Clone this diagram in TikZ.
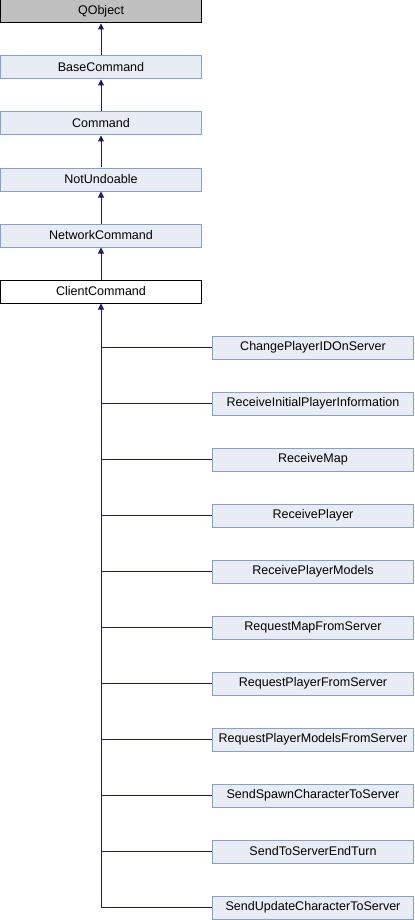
\documentclass[tikz,border=0pt]{standalone}
\usepackage{fontspec}
\setmainfont{Liberation Sans}
\usetikzlibrary{arrows.meta}
\definecolor{boxfill}{HTML}{E8ECF5}
\definecolor{boxedge}{HTML}{84A0CE}
\definecolor{grayfill}{HTML}{BFBFBF}
\definecolor{edgecol}{HTML}{191970}
\begin{document}
\begin{tikzpicture}[x=0.75pt,y=-0.75pt,
  cls/.style={draw=boxedge,fill=boxfill,line width=0.75pt,minimum width=150.75pt,minimum height=17.25pt,inner sep=0pt,font=\fontsize{9.4}{10}\selectfont},
  extcls/.style={cls,draw=black,fill=grayfill},
  curcls/.style={cls,draw=black,fill=white},
  edge/.style={draw=edgecol,line width=0.75pt},
  inh/.style={edge,-{Triangle[length=4.5pt,width=4.5pt]}}]
\useasboundingbox (0,0) rectangle (414,920);
\node[extcls] (qobject) at (101,11.5) {QObject};
\node[cls] (base) at (101,67.5) {BaseCommand};
\node[cls] (command) at (101,123.5) {Command};
\node[cls] (notundo) at (101,179.5) {NotUndoable};
\node[cls] (network) at (101,235.5) {NetworkCommand};
\node[curcls] (client) at (101,291.5) {ClientCommand};
\draw[inh] (base.north) -- (qobject.south);
\draw[inh] (command.north) -- (base.south);
\draw[inh] (notundo.north) -- (command.south);
\draw[inh] (network.north) -- (notundo.south);
\draw[inh] (client.north) -- (network.south);
\foreach \name/\txt [count=\i from 0] in {c1/ChangePlayerIDOnServer,c2/ReceiveInitialPlayerInformation,c3/ReceiveMap,c4/ReceivePlayer,c5/ReceivePlayerModels,c6/RequestMapFromServer,c7/RequestPlayerFromServer,c8/RequestPlayerModelsFromServer,c9/SendSpawnCharacterToServer,c10/SendToServerEndTurn}{
  \node[cls] (\name) at (313,347.5+56*\i) {\txt};
  \draw[edge] (\name.west) -- (\name.west -| client.south);
}
\node[cls] (c11) at (313,907.5) {SendUpdateCharacterToServer};
\draw[inh] (c11.west) -| (client.south);
\end{tikzpicture}
\end{document}
